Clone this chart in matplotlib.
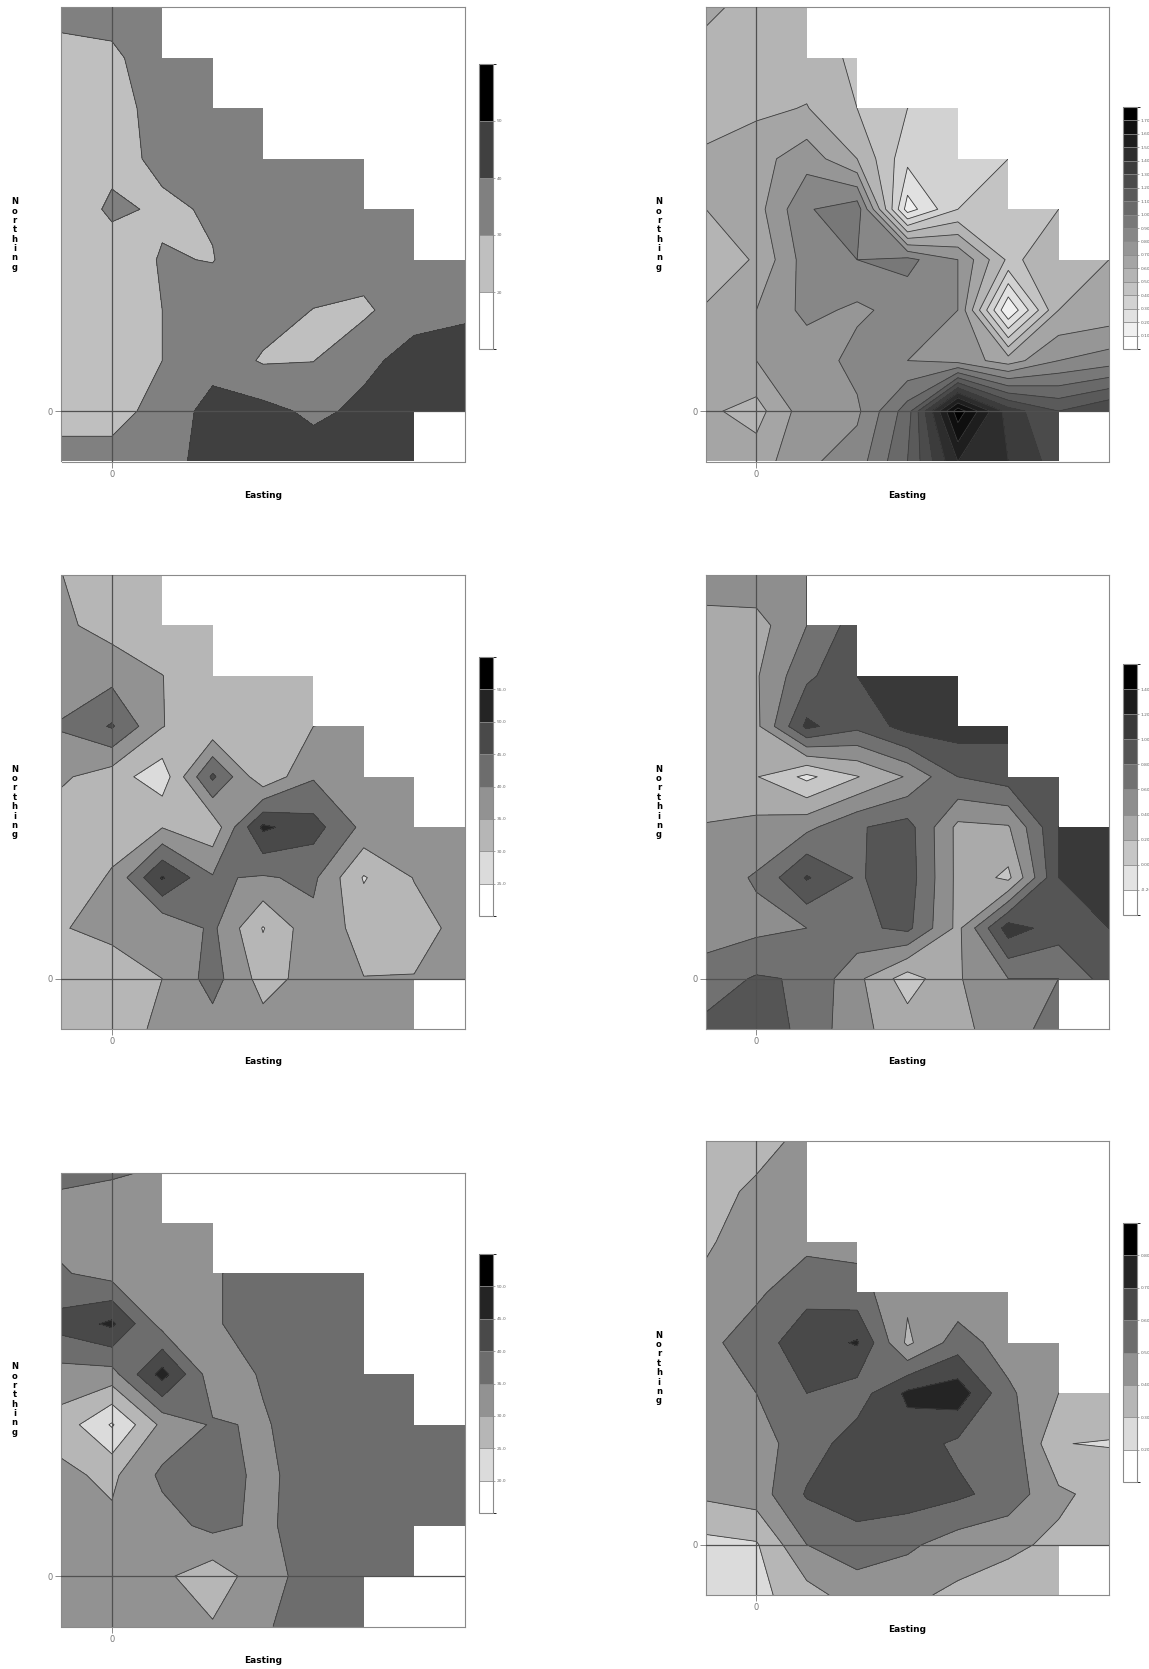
import numpy as np
import matplotlib
matplotlib.use("Agg")
import matplotlib.pyplot as plt
from matplotlib.colors import ListedColormap, BoundaryNorm
from matplotlib.patches import Polygon

W, H = 1149, 1669

# grid nodes (Easting -1..7, Northing 8..-1, rows listed top to bottom)
easting = np.arange(-1, 8)
northing = np.arange(8, -2, -1)

# filled cells per row (top row first), the rest is blanked
mask_a = [2, 3, 4, 6, 7, 8, 8, 8, 7]
mask_b = [2, 3, 5, 6, 7, 8, 8, 8, 7]
mask_e = [2, 3, 6, 6, 7, 8, 8, 7, 6]
mask_f = [2, 2, 3, 6, 7, 8, 8, 8, 7]

levels_1 = [10, 20, 30, 40, 50, 60]
z1 = [
    [34, 32, 35, 36, 36, 36, 36, 36, 36],
    [26, 29, 33, 35, 35, 35, 35, 35, 35],
    [25, 29, 31, 35, 35, 35, 35, 35, 35],
    [25, 28.5, 31, 34, 35, 35, 35, 35, 35],
    [26, 31, 29.2, 30.5, 35, 35, 35, 35, 35],
    [25, 27, 30.4, 29.8, 34, 35, 35, 36, 37],
    [25, 26, 30, 33, 34, 29.8, 28, 37, 38.5],
    [25, 26, 30, 36, 29, 29.8, 38, 43, 44],
    [27, 27, 33, 44, 43, 38, 42, 45, 46],
    [33, 33, 36, 44, 45, 45, 45, 44, 44],
]

levels_2 = [round(0.1 * i, 1) for i in range(19)]
z2 = [
    [0.63, 0.55, 0.55, 0.52, 0.45, 0.40, 0.40, 0.40, 0.40],
    [0.55, 0.55, 0.55, 0.48, 0.42, 0.40, 0.40, 0.40, 0.40],
    [0.55, 0.58, 0.605, 0.50, 0.40, 0.35, 0.36, 0.38, 0.40],
    [0.62, 0.66, 0.76, 0.60, 0.33, 0.35, 0.40, 0.43, 0.45],
    [0.60, 0.66, 0.89, 0.96, 0.15, 0.40, 0.45, 0.50, 0.52],
    [0.54, 0.61, 0.85, 0.90, 0.93, 0.80, 0.48, 0.55, 0.60],
    [0.61, 0.70, 0.83, 0.78, 0.84, 0.80, 0.10, 0.60, 0.63],
    [0.62, 0.70, 0.73, 0.84, 0.80, 0.76, 0.65, 0.80, 0.85],
    [0.62, 0.56, 0.76, 0.78, 1.05, 1.76, 1.35, 1.20, 1.30],
    [0.63, 0.65, 0.78, 0.85, 1.10, 1.50, 1.40, 1.25, 1.25],
]

levels_3 = [20, 25, 30, 35, 40, 45, 50, 55, 60]
z3 = [
    [35.1, 31, 31, 31, 31, 31, 31, 31, 31],
    [36, 33, 31, 31, 31, 31, 31, 31, 31],
    [37, 38.4, 35.1, 31, 31, 31, 32, 33, 34],
    [40.5, 45.5, 35.2, 31, 31, 35, 36, 36, 36],
    [35.8, 32.3, 27, 46, 31, 39.5, 37, 37, 37],
    [32, 33, 34.8, 31.5, 51, 47, 38.7, 37, 37],
    [32, 35.5, 50.5, 40.5, 39.5, 41, 29.6, 35.2, 37],
    [34.8, 36, 35.5, 41, 29.7, 38.5, 33, 33, 36.7],
    [32, 33, 35, 42, 33, 37, 35.1, 35.2, 37],
    [32, 32, 36.3, 38, 37, 37, 37, 37, 37],
]

levels_4 = [-0.4, -0.2, 0.0, 0.2, 0.4, 0.6, 0.8, 1.0, 1.2, 1.4, 1.6]
z4 = [
    [0.55, 0.55, 0.60, 0.90, 1.00, 1.00, 1.00, 1.00, 1.00],
    [0.30, 0.32, 0.60, 0.90, 1.00, 1.00, 1.00, 1.00, 1.00],
    [0.30, 0.38, 0.75, 1.00, 1.10, 1.10, 1.05, 1.00, 1.00],
    [0.30, 0.35, 1.05, 0.85, 1.08, 1.10, 1.05, 1.00, 1.00],
    [0.30, 0.21, -0.05, 0.19, 0.42, 0.80, 0.90, 0.90, 1.00],
    [0.41, 0.46, 0.55, 0.78, 0.88, 0.35, 0.38, 1.00, 1.15],
    [0.50, 0.62, 1.02, 0.78, 0.90, 0.35, 0.15, 1.00, 1.15],
    [0.50, 0.55, 0.60, 0.75, 0.85, 0.35, 1.10, 0.90, 1.00],
    [0.70, 0.82, 0.78, 0.45, 0.10, 0.38, 0.60, 0.60, 0.90],
    [0.85, 0.90, 0.75, 0.45, 0.30, 0.35, 0.50, 0.70, 0.70],
]

levels_5 = [15, 20, 25, 30, 35, 40, 45, 50, 55]
z5 = [
    [36, 35.5, 34.5, 33, 33, 34, 35, 36, 37],
    [33, 32, 33, 33, 33, 34, 35, 36, 37],
    [35.5, 33, 33, 34.5, 37, 37.5, 37.5, 37.5, 37.5],
    [42, 46, 33, 34.5, 37, 37.5, 37.5, 37.5, 37.5],
    [33, 33, 47, 32, 35.5, 37.5, 37.5, 37.5, 37.5],
    [28, 19.5, 31.2, 35.5, 34.5, 37.5, 37.5, 37.5, 37.5],
    [31, 29, 36, 37, 34, 37, 37.5, 37.5, 37.5],
    [31, 31, 33, 36.4, 34, 37.5, 37.5, 37.5, 37.5],
    [31, 31, 31, 27, 33, 37, 36.5, 37, 37],
    [31, 31, 31, 30.5, 34.5, 37, 37, 37, 37],
]

levels_6 = [0.1, 0.2, 0.3, 0.4, 0.5, 0.6, 0.7, 0.8, 0.9]
z6 = [
    [0.33, 0.36, 0.43, 0.44, 0.44, 0.44, 0.44, 0.44, 0.44],
    [0.36, 0.42, 0.45, 0.46, 0.45, 0.44, 0.44, 0.44, 0.44],
    [0.39, 0.44, 0.47, 0.47, 0.45, 0.44, 0.43, 0.43, 0.43],
    [0.42, 0.48, 0.575, 0.54, 0.42, 0.43, 0.42, 0.42, 0.42],
    [0.47, 0.56, 0.65, 0.71, 0.38, 0.55, 0.45, 0.42, 0.40],
    [0.45, 0.50, 0.60, 0.55, 0.72, 0.76, 0.52, 0.40, 0.36],
    [0.45, 0.46, 0.55, 0.65, 0.65, 0.58, 0.58, 0.302, 0.295],
    [0.42, 0.45, 0.61, 0.66, 0.65, 0.62, 0.56, 0.42, 0.36],
    [0.27, 0.29, 0.50, 0.55, 0.52, 0.45, 0.42, 0.38, 0.35],
    [0.26, 0.27, 0.36, 0.45, 0.42, 0.38, 0.35, 0.35, 0.35],
]


def px_axes(fig, x0, y0, w, h):
    return fig.add_axes([x0 / W, 1 - (y0 + h) / H, w / W, h / H])


def grays(n):
    return ListedColormap([str(1 - i / (n - 1)) for i in range(n)])


def outline(mask):
    verts = [(-1, 8)]
    for r, n in enumerate(mask):
        verts.append((-1 + n, 8 - r))
        verts.append((-1 + n, 7 - r))
    verts.append((-1, -1))
    return verts


def panel(fig, box, cbox, z, levels, mask, fmt, east_y):
    ax = px_axes(fig, *box)
    X, Y = np.meshgrid(easting, northing[::-1])
    Z = np.array(z, dtype=float)[::-1]
    cmap = grays(len(levels) - 1)
    norm = BoundaryNorm(levels, cmap.N)
    cf = ax.contourf(X, Y, Z, levels=levels, cmap=cmap, norm=norm)
    cl = ax.contour(X, Y, Z, levels=levels, colors='#3c3c3c', linewidths=0.6)
    clip = Polygon(outline(mask), closed=True, transform=ax.transData,
                   facecolor='none', edgecolor='none')
    ax.add_patch(clip)
    cf.set_clip_path(clip)
    cl.set_clip_path(clip)
    ax.axvline(0, color='#505050', lw=0.9, zorder=5)
    ax.axhline(0, color='#505050', lw=0.9, zorder=5)
    ax.set_xlim(-1, 7)
    ax.set_ylim(-1, 8)
    ax.set_xticks([0])
    ax.set_yticks([0])
    ax.tick_params(length=4, width=0.6, colors='#777777', labelsize=6, pad=2)
    for s in ax.spines.values():
        s.set_color('#8a8a8a')
        s.set_linewidth(0.8)

    x0, y0, w, h = box
    fig.text((x0 - 47) / W, 1 - (y0 + h / 2) / H, "\n".join("Northing"),
             ha='center', va='center', fontsize=6, fontweight='bold',
             linespacing=1.05)
    fig.text((x0 + w / 2) / W, 1 - east_y / H, "Easting", ha='center',
             va='center', fontsize=6.5, fontweight='bold')

    cax = px_axes(fig, *cbox)
    cb = fig.colorbar(cf, cax=cax, ticks=levels[1:-1], drawedges=True)
    cb.outline.set_edgecolor('#8a8a8a')
    cb.outline.set_linewidth(0.8)
    cb.dividers.set_color('#8a8a8a')
    cb.dividers.set_linewidth(0.6)
    cb.ax.set_yticklabels([fmt.format(v) for v in levels[1:-1]])
    cax.tick_params(length=1.5, width=0.4, colors='#666666', labelsize=3.2, pad=1)
    return ax


fig = plt.figure(figsize=(W / 100, H / 100), dpi=100)

panel(fig, (61.5, 7.5, 403, 454), (479, 64, 14, 285), z1, levels_1, mask_a, "{:.0f}", 495)
panel(fig, (706, 7.5, 403, 454), (1123, 107, 14, 242), z2, levels_2, mask_b, "{:.2f}", 495)
panel(fig, (61.5, 575, 403, 454), (479, 657, 14, 259), z3, levels_3, mask_b, "{:.1f}", 1062)
panel(fig, (706, 575, 403, 454), (1123, 664, 14, 251), z4, levels_4, mask_b, "{:.2f}", 1062)
panel(fig, (61.5, 1172.5, 403, 454), (479, 1254, 14, 259), z5, levels_5, mask_e, "{:.1f}", 1660)
panel(fig, (706, 1141, 403, 454), (1123, 1223, 14, 259), z6, levels_6, mask_f, "{:.2f}", 1629)

fig.savefig("out.png", dpi=100)
